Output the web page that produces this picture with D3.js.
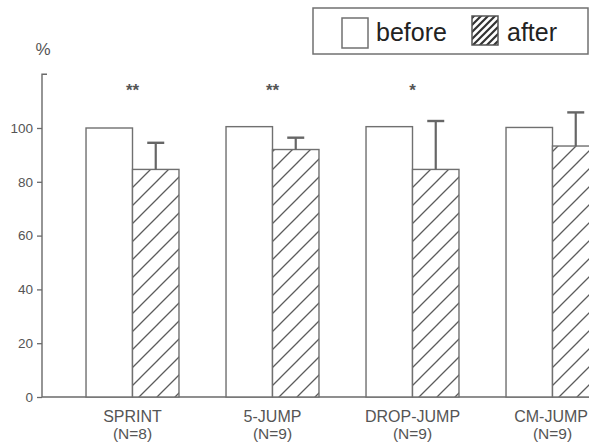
<!DOCTYPE html>
<html>
<head>
<meta charset="utf-8">
<script src="https://cdn.jsdelivr.net/npm/d3@7"></script>
<style>
  html, body { margin: 0; padding: 0; background: #fff; }
  svg { display: block; font-family: "Liberation Sans", Arial, sans-serif; }
</style>
</head>
<body>
<svg id="chart" width="589" height="445"></svg>
<script>
const categories = ["SPRINT", "5-JUMP", "DROP-JUMP", "CM-JUMP"];
const sampleSizes = ["(N=8)", "(N=9)", "(N=9)", "(N=9)"];
const beforeValues = [100, 100.5, 100.5, 100.2];
const afterValues = [84.6, 92.0, 84.6, 93.3];
const afterErrors = [9.9, 4.4, 18.0, 12.5];
const significance = ["**", "**", "*", ""];
const yTicks = [0, 20, 40, 60, 80, 100];
const seriesNames = ["before", "after"];

const svg = d3.select("#chart");
const axisColor = "#6a6a6a";
const barStroke = "#707070";
const axisX = 42;
const W = 589;

const y = d3.scaleLinear().domain([0, 120]).range([397, 74.2]);
const x0 = d3.scaleBand().domain(categories).range([62.5, 622.5])
  .paddingInner(0.336).paddingOuter(0.168);
const x1 = d3.scaleBand().domain(seriesNames).range([0, x0.bandwidth()]);

// hatch pattern
const defs = svg.append("defs");
const pat = defs.append("pattern")
  .attr("id", "hatch").attr("patternUnits", "userSpaceOnUse")
  .attr("width", 18).attr("height", 18);
pat.append("rect").attr("width", 18).attr("height", 18).attr("fill", "#fff");
pat.append("path")
  .attr("d", "M-4.5,4.5 L4.5,-4.5 M0,18 L18,0 M13.5,22.5 L22.5,13.5")
  .attr("stroke", "#5a5a5a").attr("stroke-width", 1.3);

// Y axis
const yAxis = d3.axisLeft(y).tickValues(yTicks).tickSize(5).tickPadding(4);
const gy = svg.append("g").attr("transform", `translate(${axisX},0)`).call(yAxis);
gy.select(".domain").remove();
gy.selectAll(".tick line").attr("stroke", axisColor).attr("stroke-width", 1.3);
gy.selectAll(".tick text").attr("fill", "#555").style("font-size", "13.5px")
  .style("font-family", "'Liberation Sans', Arial, sans-serif");
gy.append("path")
  .attr("d", `M5,${y(120)} H0 V${y(0)}`)
  .attr("fill", "none").attr("stroke", axisColor).attr("stroke-width", 1.4);

svg.append("text").attr("x", 43).attr("y", 55).attr("text-anchor", "middle")
  .attr("fill", "#555").style("font-size", "17px").text("%");

// X axis baseline
svg.append("line").attr("x1", axisX).attr("x2", W).attr("y1", y(0)).attr("y2", y(0))
  .attr("stroke", axisColor).attr("stroke-width", 1.5);

// bars
const groups = svg.append("g").selectAll("g").data(categories).join("g")
  .attr("transform", d => `translate(${x0(d)},0)`);

groups.append("rect")
  .attr("x", x1("before")).attr("width", x1.bandwidth())
  .attr("y", (d, i) => y(beforeValues[i]))
  .attr("height", (d, i) => y(0) - y(beforeValues[i]))
  .attr("fill", "#fff").attr("stroke", barStroke).attr("stroke-width", 1.4);

groups.append("rect")
  .attr("x", x1("after")).attr("width", x1.bandwidth())
  .attr("y", (d, i) => y(afterValues[i]))
  .attr("height", (d, i) => y(0) - y(afterValues[i]))
  .attr("fill", "url(#hatch)").attr("stroke", barStroke).attr("stroke-width", 1.4);

// error bars
const ex = x1("after") + x1.bandwidth() / 2;
groups.append("line")
  .attr("x1", ex).attr("x2", ex)
  .attr("y1", (d, i) => y(afterValues[i]))
  .attr("y2", (d, i) => y(afterValues[i] + afterErrors[i]))
  .attr("stroke", "#666").attr("stroke-width", 2.2);
groups.append("line")
  .attr("x1", ex - 8.5).attr("x2", ex + 8.5)
  .attr("y1", (d, i) => y(afterValues[i] + afterErrors[i]))
  .attr("y2", (d, i) => y(afterValues[i] + afterErrors[i]))
  .attr("stroke", "#666").attr("stroke-width", 2.4);

// significance stars
groups.append("text")
  .attr("x", x0.bandwidth() / 2).attr("y", 96)
  .attr("text-anchor", "middle").attr("fill", "#555")
  .style("font-size", "17px").style("font-weight", "bold")
  .text((d, i) => significance[i]);

// category labels (kept inside the right edge)
function fitInside(sel) {
  sel.each(function (d) {
    const len = this.getComputedTextLength();
    const cx = x0(d) + x0.bandwidth() / 2;
    const maxCx = W - 1 - len / 2;
    if (cx > maxCx) d3.select(this).attr("x", x0.bandwidth() / 2 - (cx - maxCx));
  });
}
groups.append("text")
  .attr("x", x0.bandwidth() / 2).attr("y", 422)
  .attr("text-anchor", "middle").attr("fill", "#555")
  .style("font-size", "16px").text(d => d)
  .call(fitInside);
groups.append("text")
  .attr("x", x0.bandwidth() / 2).attr("y", 439)
  .attr("text-anchor", "middle").attr("fill", "#555")
  .style("font-size", "15.5px").text((d, i) => sampleSizes[i]);

// legend
const lg = svg.append("g");
lg.append("rect").attr("x", 313).attr("y", 8).attr("width", 275).attr("height", 46)
  .attr("fill", "#fff").attr("stroke", "#707070").attr("stroke-width", 1.5);
lg.append("rect").attr("x", 342).attr("y", 18).attr("width", 26).attr("height", 30)
  .attr("fill", "#fff").attr("stroke", "#707070").attr("stroke-width", 1.5);
lg.append("text").attr("x", 376).attr("y", 41).attr("fill", "#222")
  .style("font-size", "25px").text(seriesNames[0]);
const lpat = defs.append("pattern")
  .attr("id", "hatchL").attr("patternUnits", "userSpaceOnUse")
  .attr("width", 7).attr("height", 7);
lpat.append("rect").attr("width", 7).attr("height", 7).attr("fill", "#fff");
lpat.append("path").attr("d", "M-2,2 L2,-2 M0,7 L7,0 M5,9 L9,5")
  .attr("stroke", "#333").attr("stroke-width", 2.2);
lg.append("rect").attr("x", 472).attr("y", 16).attr("width", 26).attr("height", 29)
  .attr("fill", "url(#hatchL)").attr("stroke", "#555").attr("stroke-width", 1.5);
lg.append("text").attr("x", 507).attr("y", 41).attr("fill", "#222")
  .style("font-size", "25px").text(seriesNames[1]);
</script>
</body>
</html>
